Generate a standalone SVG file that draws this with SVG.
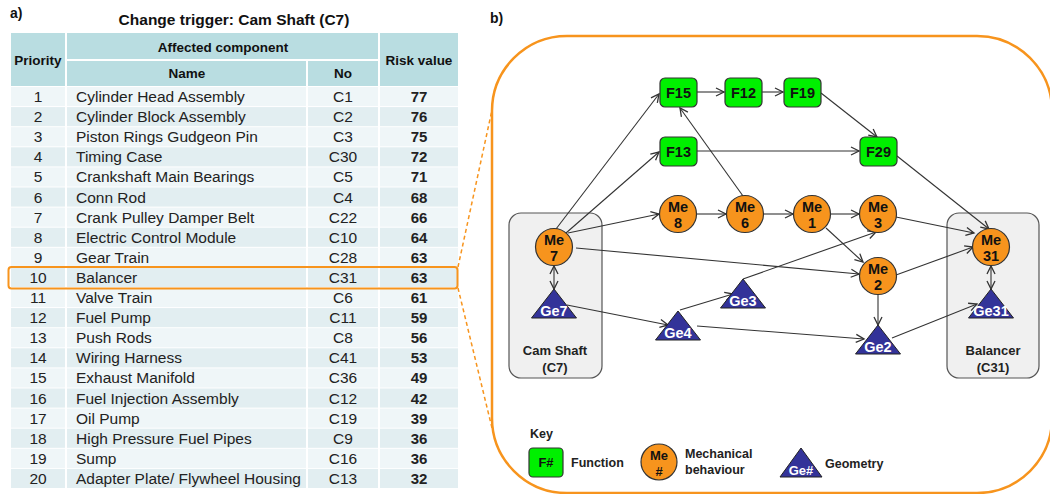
<svg xmlns="http://www.w3.org/2000/svg" width="1050" height="494" viewBox="0 0 1050 494">
<defs>
<marker id="ah" markerUnits="userSpaceOnUse" markerWidth="12" markerHeight="12" refX="9" refY="5" orient="auto-start-reverse" viewBox="0 0 12 10">
<path d="M1,1 L9,5 L1,9" fill="none" stroke="#333" stroke-width="1.3"/>
</marker>
<style>
text{font-family:"Liberation Sans",Arial,sans-serif;fill:#111}
.hd{font-size:13.5px;font-weight:bold;text-anchor:middle}
.tt{font-size:15.5px;font-weight:bold}
.pr{font-size:15.5px;text-anchor:middle;fill:#222}
.nm{font-size:15.5px;fill:#222}
.no{font-size:15.5px;text-anchor:middle;fill:#222}
.rv{font-size:15px;font-weight:bold;text-anchor:middle;fill:#222}
.odd{fill:#eff6f8}
.even{fill:#e2eef1}
.hdr{fill:#b9dde1}
.fn rect{fill:#00f000;stroke:#333;stroke-width:1.2}
.me circle{fill:#f7941d;stroke:#333;stroke-width:1.2}
.ge polygon{fill:#333399;stroke:#222;stroke-width:1}
.nl{font-size:14.5px;font-weight:bold;text-anchor:middle;fill:#111}
.gl{font-size:14.5px;font-weight:bold;text-anchor:middle;fill:#fff}
.grp{fill:#f0f0f0;stroke:#555;stroke-width:1.2}
.gt{font-size:13px;font-weight:bold;text-anchor:middle;fill:#222}
.edges line{stroke:#333;stroke-width:1.1;marker-end:url(#ah)}
.kt{font-size:12.5px;font-weight:bold;fill:#222}
</style>
</defs>
<rect width="1050" height="494" fill="#fff"/>
<text x="10" y="18" class="tt" style="font-size:14px">a)</text>
<text x="234" y="25" class="tt" text-anchor="middle">Change trigger: Cam Shaft (C7)</text>
<g id="table">
<rect class="hdr" x="11" y="33" width="54" height="53"/>
<rect class="hdr" x="67" y="33" width="311" height="26"/>
<rect class="hdr" x="67" y="61" width="239" height="25"/>
<rect class="hdr" x="308" y="61" width="70" height="25"/>
<rect class="hdr" x="380" y="33" width="78" height="53"/>
<text class="hd" x="38" y="65">Priority</text>
<text class="hd" x="223" y="52">Affected component</text>
<text class="hd" x="187" y="78">Name</text>
<text class="hd" x="343" y="78">No</text>
<text class="hd" x="419" y="65">Risk value</text>
<g id="rows">
<rect class="odd" x="11" y="87" width="447" height="19.1"/>
<rect class="even" x="11" y="107.1" width="447" height="19.1"/>
<rect class="odd" x="11" y="127.2" width="447" height="19.1"/>
<rect class="even" x="11" y="147.3" width="447" height="19.1"/>
<rect class="odd" x="11" y="167.4" width="447" height="19.1"/>
<rect class="even" x="11" y="187.5" width="447" height="19.1"/>
<rect class="odd" x="11" y="207.6" width="447" height="19.1"/>
<rect class="even" x="11" y="227.7" width="447" height="19.1"/>
<rect class="odd" x="11" y="247.8" width="447" height="19.1"/>
<rect class="even" x="11" y="267.9" width="447" height="19.1"/>
<rect class="odd" x="11" y="288" width="447" height="19.1"/>
<rect class="even" x="11" y="308.1" width="447" height="19.1"/>
<rect class="odd" x="11" y="328.2" width="447" height="19.1"/>
<rect class="even" x="11" y="348.3" width="447" height="19.1"/>
<rect class="odd" x="11" y="368.4" width="447" height="19.1"/>
<rect class="even" x="11" y="388.5" width="447" height="19.1"/>
<rect class="odd" x="11" y="408.6" width="447" height="19.1"/>
<rect class="even" x="11" y="428.7" width="447" height="19.1"/>
<rect class="odd" x="11" y="448.8" width="447" height="19.1"/>
<rect class="even" x="11" y="468.9" width="447" height="19.1"/>
<g stroke="#fff" stroke-width="2">
<line x1="66" y1="87" x2="66" y2="488"/>
<line x1="307" y1="87" x2="307" y2="488"/>
<line x1="379" y1="87" x2="379" y2="488"/>
</g>
</g>
<g id="cells">
<text class="pr" x="38" y="102">1</text><text class="nm" x="76" y="102">Cylinder Head Assembly</text><text class="no" x="343" y="102">C1</text><text class="rv" x="419" y="102">77</text>
<text class="pr" x="38" y="122.1">2</text><text class="nm" x="76" y="122.1">Cylinder Block Assembly</text><text class="no" x="343" y="122.1">C2</text><text class="rv" x="419" y="122.1">76</text>
<text class="pr" x="38" y="142.2">3</text><text class="nm" x="76" y="142.2">Piston Rings Gudgeon Pin</text><text class="no" x="343" y="142.2">C3</text><text class="rv" x="419" y="142.2">75</text>
<text class="pr" x="38" y="162.3">4</text><text class="nm" x="76" y="162.3">Timing Case</text><text class="no" x="343" y="162.3">C30</text><text class="rv" x="419" y="162.3">72</text>
<text class="pr" x="38" y="182.4">5</text><text class="nm" x="76" y="182.4">Crankshaft Main Bearings</text><text class="no" x="343" y="182.4">C5</text><text class="rv" x="419" y="182.4">71</text>
<text class="pr" x="38" y="202.5">6</text><text class="nm" x="76" y="202.5">Conn Rod</text><text class="no" x="343" y="202.5">C4</text><text class="rv" x="419" y="202.5">68</text>
<text class="pr" x="38" y="222.6">7</text><text class="nm" x="76" y="222.6">Crank Pulley Damper Belt</text><text class="no" x="343" y="222.6">C22</text><text class="rv" x="419" y="222.6">66</text>
<text class="pr" x="38" y="242.7">8</text><text class="nm" x="76" y="242.7">Electric Control Module</text><text class="no" x="343" y="242.7">C10</text><text class="rv" x="419" y="242.7">64</text>
<text class="pr" x="38" y="262.8">9</text><text class="nm" x="76" y="262.8">Gear Train</text><text class="no" x="343" y="262.8">C28</text><text class="rv" x="419" y="262.8">63</text>
<text class="pr" x="38" y="282.9">10</text><text class="nm" x="76" y="282.9">Balancer</text><text class="no" x="343" y="282.9">C31</text><text class="rv" x="419" y="282.9">63</text>
<text class="pr" x="38" y="303">11</text><text class="nm" x="76" y="303">Valve Train</text><text class="no" x="343" y="303">C6</text><text class="rv" x="419" y="303">61</text>
<text class="pr" x="38" y="323.1">12</text><text class="nm" x="76" y="323.1">Fuel Pump</text><text class="no" x="343" y="323.1">C11</text><text class="rv" x="419" y="323.1">59</text>
<text class="pr" x="38" y="343.2">13</text><text class="nm" x="76" y="343.2">Push Rods</text><text class="no" x="343" y="343.2">C8</text><text class="rv" x="419" y="343.2">56</text>
<text class="pr" x="38" y="363.3">14</text><text class="nm" x="76" y="363.3">Wiring Harness</text><text class="no" x="343" y="363.3">C41</text><text class="rv" x="419" y="363.3">53</text>
<text class="pr" x="38" y="383.4">15</text><text class="nm" x="76" y="383.4">Exhaust Manifold</text><text class="no" x="343" y="383.4">C36</text><text class="rv" x="419" y="383.4">49</text>
<text class="pr" x="38" y="403.5">16</text><text class="nm" x="76" y="403.5">Fuel Injection Assembly</text><text class="no" x="343" y="403.5">C12</text><text class="rv" x="419" y="403.5">42</text>
<text class="pr" x="38" y="423.6">17</text><text class="nm" x="76" y="423.6">Oil Pump</text><text class="no" x="343" y="423.6">C19</text><text class="rv" x="419" y="423.6">39</text>
<text class="pr" x="38" y="443.7">18</text><text class="nm" x="76" y="443.7">High Pressure Fuel Pipes</text><text class="no" x="343" y="443.7">C9</text><text class="rv" x="419" y="443.7">36</text>
<text class="pr" x="38" y="463.8">19</text><text class="nm" x="76" y="463.8">Sump</text><text class="no" x="343" y="463.8">C16</text><text class="rv" x="419" y="463.8">36</text>
<text class="pr" x="38" y="483.9">20</text><text class="nm" x="76" y="483.9">Adapter Plate/ Flywheel Housing</text><text class="no" x="343" y="483.9">C13</text><text class="rv" x="419" y="483.9">32</text>
</g>
<rect id="highlight" x="8.5" y="267" width="449" height="21.5" rx="3" fill="none" stroke="#f7941d" stroke-width="2"/>
</g>
<g id="zoomlines" stroke="#f7941d" stroke-width="1.5" stroke-dasharray="4,3" fill="none">
<line x1="458" y1="267" x2="492" y2="110"/>
<line x1="458" y1="288" x2="492" y2="428"/>
</g>
<text x="490" y="23" class="tt" style="font-size:14px">b)</text>
<rect id="frame" x="492" y="36" width="560" height="457" rx="75" fill="none" stroke="#f7941d" stroke-width="2.5"/>
<g id="camshaft">
<rect class="grp" x="509" y="213" width="93" height="165" rx="12"/>
<text class="gt" x="555" y="355">Cam Shaft</text>
<text class="gt" x="555" y="372">(C7)</text>
</g>
<g id="balancer">
<rect class="grp" x="947" y="213" width="92" height="165" rx="12"/>
<text class="gt" x="993" y="355">Balancer</text>
<text class="gt" x="993" y="372">(C31)</text>
</g>
<g class="edges" id="connectors">
<line x1="556" y1="229" x2="659" y2="94"/>
<line x1="566" y1="233" x2="659" y2="152"/>
<line x1="568" y1="233" x2="659" y2="214"/>
<line x1="576" y1="248" x2="859" y2="274"/>
<line x1="554" y1="266" x2="554" y2="289" style="marker-start:url(#ah)"/>
<line x1="567" y1="305" x2="668" y2="325"/>
<line x1="680" y1="310" x2="733" y2="294"/>
<line x1="697" y1="326" x2="864" y2="339"/>
<line x1="743" y1="279" x2="876" y2="232"/>
<line x1="696" y1="214" x2="726" y2="214"/>
<line x1="743" y1="196" x2="680" y2="108"/>
<line x1="763" y1="214" x2="793" y2="214"/>
<line x1="830" y1="214" x2="859" y2="214"/>
<line x1="826" y1="228" x2="863" y2="262"/>
<line x1="878" y1="294" x2="878" y2="325"/>
<line x1="896" y1="275" x2="973" y2="247"/>
<line x1="896" y1="217" x2="974" y2="233"/>
<line x1="897" y1="156" x2="989" y2="229"/>
<line x1="892" y1="338" x2="977" y2="304"/>
<line x1="991" y1="266" x2="991" y2="289" style="marker-start:url(#ah)"/>
<line x1="697" y1="92" x2="724" y2="92"/>
<line x1="762" y1="92" x2="783" y2="92"/>
<line x1="821" y1="93" x2="877" y2="137"/>
<line x1="697" y1="151" x2="859" y2="151"/>
</g>
<g id="F15" class="fn"><rect x="660" y="78" width="37" height="29" rx="5"/><text class="nl" x="678.5" y="98">F15</text></g>
<g id="F12" class="fn"><rect x="725" y="78" width="37" height="29" rx="5"/><text class="nl" x="743.5" y="98">F12</text></g>
<g id="F19" class="fn"><rect x="784" y="78" width="37" height="29" rx="5"/><text class="nl" x="802.5" y="98">F19</text></g>
<g id="F13" class="fn"><rect x="660" y="137" width="37" height="29" rx="5"/><text class="nl" x="678.5" y="157">F13</text></g>
<g id="F29" class="fn"><rect x="860" y="137" width="37" height="29" rx="5"/><text class="nl" x="878.5" y="157">F29</text></g>
<g id="Me7" class="me"><circle cx="554" cy="247" r="18.5"/><text class="nl" x="554" y="245">Me</text><text class="nl" x="554" y="261">7</text></g>
<g id="Me8" class="me"><circle cx="678" cy="214" r="18.5"/><text class="nl" x="678" y="212">Me</text><text class="nl" x="678" y="228">8</text></g>
<g id="Me6" class="me"><circle cx="745" cy="214" r="18.5"/><text class="nl" x="745" y="212">Me</text><text class="nl" x="745" y="228">6</text></g>
<g id="Me1" class="me"><circle cx="812" cy="214" r="18.5"/><text class="nl" x="812" y="212">Me</text><text class="nl" x="812" y="228">1</text></g>
<g id="Me3" class="me"><circle cx="878" cy="214" r="18.5"/><text class="nl" x="878" y="212">Me</text><text class="nl" x="878" y="228">3</text></g>
<g id="Me2" class="me"><circle cx="878" cy="276" r="18.5"/><text class="nl" x="878" y="274">Me</text><text class="nl" x="878" y="290">2</text></g>
<g id="Me31" class="me"><circle cx="991" cy="247" r="18.5"/><text class="nl" x="991" y="245">Me</text><text class="nl" x="991" y="261">31</text></g>
<g id="Ge7" class="ge"><polygon points="554,289 576.5,318 531.5,318"/><text class="gl" x="554" y="316">Ge7</text></g>
<g id="Ge4" class="ge"><polygon points="678,311 700.5,340 655.5,340"/><text class="gl" x="678" y="338">Ge4</text></g>
<g id="Ge3" class="ge"><polygon points="743,279 765.5,308 720.5,308"/><text class="gl" x="743" y="306">Ge3</text></g>
<g id="Ge2" class="ge"><polygon points="878,325 900.5,354 855.5,354"/><text class="gl" x="878" y="352">Ge2</text></g>
<g id="Ge31" class="ge"><polygon points="991,289 1013.5,318 968.5,318"/><text class="gl" x="991" y="316">Ge31</text></g>
<g id="key">
<text class="kt" x="530" y="438">Key</text>
<g class="fn"><rect x="529" y="448" width="34" height="29" rx="4"/><text class="nl" x="546" y="467" style="font-size:13px">F#</text></g>
<text class="kt" x="571" y="467">Function</text>
<g class="me"><circle cx="659" cy="462" r="18"/><text class="nl" x="659" y="460" style="font-size:13px">Me</text><text class="nl" x="659" y="476" style="font-size:13px">#</text></g>
<text class="kt" x="685" y="458">Mechanical</text>
<text class="kt" x="685" y="474">behaviour</text>
<g class="ge"><polygon points="801,448 822,477 780,477"/><text class="gl" x="801" y="475" style="font-size:13px">Ge#</text></g>
<text class="kt" x="825" y="468">Geometry</text>
</g>
</svg>
